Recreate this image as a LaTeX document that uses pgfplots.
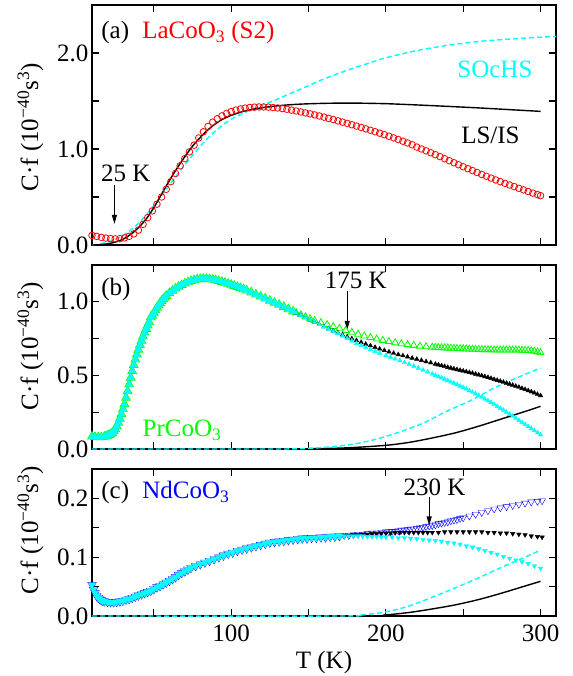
\documentclass[border=0pt]{standalone}
\usepackage{fontspec}
\setmainfont{Liberation Serif}
\usepackage{pgfplots}
\pgfplotsset{compat=1.18}
\usepackage{pgfplotstable}
\usetikzlibrary{arrows.meta}
\definecolor{cy}{RGB}{0,255,255}
\definecolor{gr}{RGB}{0,255,0}
\definecolor{rd}{RGB}{255,0,0}
\definecolor{bl}{RGB}{0,0,255}

\newcommand{\fs}{\fontsize{25}{30}\selectfont}
\tikzset{txt/.style={inner sep=0pt, font=\fs}}

\pgfplotsset{
 panel/.style={
  scale only axis, width=464pt, xmin=10, xmax=310,
  xtick={50,100,150,200,250,300}, xticklabels={},
  tick align=inside, xtick pos=both, ytick pos=both,
  major tick length=7pt,
  axis line style={line width=1.1pt},
  every tick/.append style={line width=1.1pt, black},
  tick label style={font=\fs},
  xticklabel style={yshift=-5pt},
  /pgf/number format/assume math mode=true,
  ylabel={C·f (10\textsuperscript{−40}s\textsuperscript{3})},
  clip=true,
 },
 openmk/.style={only marks, mark options={line width=0.8pt, fill=none}},
}

% ---------------- panel (a) ----------------
\pgfplotstableread[row sep=\\]{
T v\\
10 0.100\\ 13 0.090\\ 16 0.080\\ 19 0.072\\ 22 0.066\\ 25 0.064\\ 28 0.066\\ 31 0.074\\
34 0.090\\ 37 0.115\\ 40 0.155\\ 43 0.215\\ 46 0.285\\ 49 0.355\\ 52 0.425\\ 55 0.500\\
58 0.580\\ 61 0.660\\ 64 0.745\\ 67 0.825\\ 70 0.900\\ 73 0.970\\ 76 1.040\\ 79 1.115\\
82 1.180\\ 85 1.235\\ 88 1.280\\ 91 1.315\\ 94 1.345\\ 97 1.370\\ 100 1.390\\ 103 1.405\\
106 1.417\\ 109 1.426\\ 112 1.432\\ 115 1.436\\ 118 1.438\\ 121 1.438\\ 124 1.436\\ 127 1.432\\
130 1.427\\ 133 1.421\\ 136 1.414\\ 139 1.405\\ 142 1.396\\ 145 1.386\\ 148 1.376\\ 151 1.366\\
154 1.355\\ 157 1.344\\ 160 1.332\\ 163 1.319\\ 166 1.306\\ 169 1.293\\ 172 1.280\\ 175 1.267\\
178 1.253\\ 181 1.239\\ 184 1.225\\ 187 1.210\\ 190 1.195\\ 193 1.180\\ 196 1.165\\ 199 1.149\\
202 1.133\\ 205 1.116\\ 208 1.099\\ 211 1.081\\ 214 1.063\\ 217 1.044\\ 220 1.020\\ 223 1.000\\
226 0.981\\ 229 0.961\\ 232 0.941\\ 235 0.920\\ 238 0.899\\ 241 0.878\\ 244 0.857\\ 247 0.836\\
250 0.815\\ 253 0.795\\ 256 0.775\\ 259 0.755\\ 262 0.735\\ 265 0.716\\ 268 0.697\\ 271 0.678\\
274 0.660\\ 277 0.642\\ 280 0.625\\ 283 0.608\\ 286 0.591\\ 289 0.574\\ 292 0.557\\ 295 0.541\\
298 0.525\\ 300 0.514\\
}\redA

\pgfplotstableread[row sep=\\]{
T v\\
10 0\\ 15 0.003\\ 20 0.012\\ 25 0.030\\ 30 0.060\\ 35 0.110\\ 40 0.180\\ 45 0.270\\ 50 0.390\\
55 0.530\\ 60 0.670\\ 65 0.800\\ 70 0.920\\ 75 1.030\\ 80 1.120\\ 85 1.200\\ 90 1.265\\ 95 1.315\\
100 1.350\\ 105 1.378\\ 110 1.400\\ 120 1.430\\ 130 1.450\\ 140 1.463\\ 150 1.471\\ 165 1.477\\
180 1.478\\ 200 1.472\\ 220 1.459\\ 240 1.444\\ 260 1.428\\ 280 1.410\\ 300 1.392\\
}\blackA

\pgfplotstableread[row sep=\\]{
T v\\
10 0\\ 15 0.012\\ 20 0.032\\ 25 0.060\\ 30 0.100\\ 35 0.155\\ 40 0.225\\ 45 0.310\\ 50 0.410\\
55 0.515\\ 60 0.625\\ 65 0.730\\ 70 0.835\\ 75 0.935\\ 80 1.030\\ 85 1.115\\ 90 1.190\\ 95 1.255\\
100 1.310\\ 110 1.390\\ 120 1.455\\ 130 1.520\\ 140 1.590\\ 150 1.660\\ 160 1.730\\ 175 1.820\\
190 1.900\\ 200 1.950\\ 220 2.025\\ 240 2.080\\ 260 2.120\\ 280 2.145\\ 300 2.165\\ 310 2.172\\
}\cyanA

% ---------------- panel (b) ----------------
\pgfplotstableread[row sep=\\]{
T v\\
10 0.085\\ 12 0.081\\ 14 0.080\\ 16 0.080\\ 18 0.083\\ 19 0.086\\ 20 0.090\\ 21 0.095\\ 22 0.100\\ 23 0.108\\ 24 0.120\\ 25 0.135\\
26 0.155\\ 27 0.178\\ 28 0.205\\ 29 0.237\\ 30 0.270\\ 31 0.305\\ 32 0.348\\ 33 0.393\\ 34 0.440\\
35 0.485\\ 36 0.530\\ 37 0.570\\ 38 0.608\\ 39 0.643\\ 40 0.675\\ 41 0.706\\ 42 0.736\\ 43 0.765\\
44 0.791\\ 45 0.816\\ 46 0.840\\ 47 0.862\\ 48 0.895\\ 49 0.905\\ 50 0.925\\ 51 0.943\\ 52 0.960\\
53 0.976\\ 54 0.991\\ 55 1.005\\ 56 1.017\\ 57 1.029\\ 58 1.040\\ 60 1.059\\ 62 1.076\\ 64 1.090\\
66 1.103\\ 68 1.114\\ 70 1.124\\ 72 1.133\\ 74 1.141\\ 76 1.147\\ 78 1.152\\ 80 1.155\\ 82 1.156\\ 84 1.156\\
86 1.154\\ 88 1.151\\ 90 1.146\\ 92 1.141\\ 94 1.135\\ 96 1.129\\ 98 1.123\\ 100 1.116\\ 102 1.108\\ 104 1.101\\ 106 1.093\\ 108 1.085\\ 110 1.077\\
113 1.064\\ 116 1.050\\ 119 1.036\\ 122 1.022\\ 125 1.008\\ 128 0.994\\ 131 0.980\\ 134 0.965\\
137 0.950\\ 140 0.935\\
}\bandB

\pgfplotstableread[row sep=\\]{
T v\\
142 0.926\\ 145 0.912\\ 148 0.898\\ 151 0.885\\ 154 0.872\\ 158 0.858\\ 162 0.845\\ 166 0.832\\
170 0.820\\ 174 0.806\\ 178 0.793\\ 182 0.780\\ 186 0.768\\ 190 0.757\\ 194 0.747\\ 198 0.738\\
202 0.730\\ 206 0.722\\ 210 0.715\\ 214 0.709\\ 218 0.704\\ 222 0.699\\ 226 0.695\\ 230 0.692\\
232 0.690\\ 234 0.689\\ 236 0.688\\ 238 0.687\\ 240 0.686\\ 242 0.685\\ 244 0.684\\ 246 0.683\\
248 0.682\\ 250 0.681\\ 252 0.680\\ 254 0.679\\ 256 0.678\\ 258 0.677\\ 260 0.676\\ 262 0.675\\
264 0.675\\ 266 0.674\\ 268 0.674\\ 270 0.673\\ 272 0.673\\ 274 0.673\\ 276 0.673\\ 278 0.673\\
280 0.673\\ 282 0.673\\ 284 0.672\\ 286 0.672\\ 288 0.671\\ 290 0.670\\ 292 0.669\\ 294 0.667\\
296 0.664\\ 298 0.660\\ 300 0.655\\
}\greenB

\pgfplotstableread[row sep=\\]{
T v\\
142 0.924\\ 145 0.908\\ 148 0.892\\ 151 0.876\\ 154 0.861\\ 157 0.846\\ 160 0.831\\ 163 0.817\\
166 0.803\\ 169 0.789\\ 172 0.775\\ 175 0.762\\ 178 0.749\\ 181 0.737\\ 184 0.725\\ 187 0.713\\
190 0.702\\ 193 0.691\\ 196 0.680\\ 199 0.670\\ 202 0.660\\ 205 0.651\\ 208 0.642\\ 211 0.634\\
214 0.626\\ 217 0.618\\ 220 0.610\\ 223 0.602\\ 226 0.594\\ 229 0.586\\ 232 0.577\\ 234 0.572\\
236 0.566\\ 238 0.561\\ 240 0.555\\ 242 0.550\\ 244 0.545\\ 246 0.540\\ 248 0.535\\ 250 0.530\\
252 0.525\\ 254 0.520\\ 256 0.515\\ 258 0.509\\ 260 0.504\\ 262 0.498\\ 264 0.492\\ 266 0.486\\
268 0.480\\ 270 0.473\\ 272 0.467\\ 274 0.461\\ 276 0.454\\ 278 0.447\\ 280 0.441\\ 282 0.434\\
284 0.427\\ 286 0.420\\ 288 0.412\\ 290 0.405\\ 292 0.397\\ 294 0.389\\ 296 0.381\\ 298 0.372\\
300 0.363\\
}\blackB

\pgfplotstableread[row sep=\\]{
T v\\
142 0.924\\ 145 0.908\\ 148 0.892\\ 151 0.876\\ 154 0.861\\ 157 0.846\\ 160 0.830\\ 163 0.815\\
166 0.800\\ 169 0.785\\ 172 0.768\\ 175 0.752\\ 178 0.735\\ 181 0.718\\ 184 0.704\\ 187 0.690\\
190 0.676\\ 193 0.664\\ 196 0.652\\ 200 0.635\\ 203 0.624\\ 206 0.612\\ 209 0.600\\ 212 0.588\\
215 0.576\\ 218 0.563\\ 221 0.550\\ 224 0.537\\ 227 0.524\\ 230 0.510\\ 232 0.501\\ 234 0.492\\
236 0.483\\ 238 0.474\\ 240 0.465\\ 242 0.456\\ 244 0.447\\ 246 0.438\\ 248 0.428\\ 250 0.418\\
252 0.408\\ 254 0.397\\ 256 0.386\\ 258 0.375\\ 260 0.364\\ 262 0.352\\ 264 0.340\\ 266 0.328\\
268 0.316\\ 270 0.303\\ 272 0.290\\ 274 0.277\\ 276 0.264\\ 278 0.250\\ 280 0.237\\ 282 0.223\\
284 0.209\\ 286 0.195\\ 288 0.181\\ 290 0.167\\ 292 0.153\\ 294 0.139\\ 296 0.125\\ 298 0.111\\
300 0.097\\
}\cyanB

\pgfplotstableread[row sep=\\]{
T v\\
10 0\\ 100 0\\ 150 0.002\\ 175 0.008\\ 200 0.025\\ 215 0.045\\ 230 0.075\\ 245 0.110\\
260 0.155\\ 275 0.205\\ 290 0.255\\ 300 0.290\\
}\lineBk

\pgfplotstableread[row sep=\\]{
T v\\
10 0\\ 130 0\\ 150 0.005\\ 165 0.015\\ 180 0.035\\ 195 0.070\\ 210 0.120\\ 225 0.180\\
240 0.260\\ 255 0.330\\ 270 0.415\\ 285 0.485\\ 300 0.550\\
}\lineBc

% ---------------- panel (c) ----------------
\pgfplotstableread[row sep=\\]{
T v\\
10 0.053\\ 11 0.045\\ 12 0.039\\ 13 0.034\\ 14 0.031\\ 15 0.029\\ 16 0.027\\ 17 0.026\\ 18 0.025\\ 20 0.024\\
22 0.0237\\ 24 0.0235\\ 26 0.024\\ 28 0.025\\ 30 0.026\\ 32 0.028\\ 34 0.029\\ 36 0.031\\ 38 0.033\\ 40 0.035\\ 42 0.037\\ 44 0.039\\ 46 0.041\\ 48 0.043\\
50 0.046\\ 52 0.049\\ 54 0.051\\ 56 0.054\\ 58 0.057\\ 60 0.060\\ 62 0.063\\ 64 0.066\\ 66 0.070\\ 68 0.073\\ 70 0.076\\ 72 0.079\\ 74 0.082\\
77 0.085\\ 80 0.088\\ 83 0.091\\ 86 0.094\\ 89 0.097\\ 92 0.100\\ 95 0.103\\ 98 0.106\\ 101 0.108\\
104 0.111\\ 107 0.113\\ 110 0.115\\ 113 0.117\\ 116 0.119\\ 119 0.121\\ 122 0.123\\ 125 0.125\\
128 0.126\\ 131 0.127\\ 134 0.128\\ 137 0.129\\ 140 0.130\\ 143 0.131\\ 146 0.132\\ 149 0.132\\
152 0.133\\ 155 0.133\\ 158 0.134\\ 161 0.134\\ 164 0.135\\ 167 0.135\\ 170 0.136\\
}\bandC

\pgfplotstableread[row sep=\\]{
T v\\
173 0.137\\ 176 0.137\\ 179 0.138\\ 182 0.139\\ 185 0.139\\ 188 0.140\\ 191 0.141\\ 194 0.141\\
197 0.142\\ 200 0.143\\ 202 0.143\\ 204 0.144\\ 206 0.144\\ 208 0.145\\ 210 0.146\\ 212 0.146\\
214 0.147\\ 216 0.148\\ 218 0.148\\ 220 0.149\\ 222 0.150\\ 224 0.151\\ 226 0.152\\ 228 0.153\\
230 0.154\\ 232 0.155\\ 234 0.157\\ 236 0.158\\ 238 0.159\\ 240 0.160\\ 242 0.162\\ 244 0.163\\
246 0.164\\ 248 0.166\\ 250 0.167\\ 254 0.170\\ 258 0.173\\ 262 0.176\\ 266 0.179\\ 270 0.182\\
274 0.184\\ 278 0.186\\ 282 0.188\\ 286 0.190\\ 290 0.192\\ 294 0.194\\ 298 0.195\\ 301 0.196\\
}\blueC

\pgfplotstableread[row sep=\\]{
T v\\
173 0.137\\ 176 0.137\\ 179 0.138\\ 182 0.138\\ 185 0.139\\ 188 0.139\\ 191 0.140\\ 194 0.140\\
197 0.141\\ 200 0.141\\ 203 0.141\\ 206 0.142\\ 209 0.142\\ 212 0.142\\ 215 0.142\\ 218 0.142\\
221 0.142\\ 224 0.142\\ 227 0.142\\ 230 0.142\\ 234 0.142\\ 238 0.143\\ 242 0.143\\ 246 0.143\\
250 0.143\\ 254 0.143\\ 258 0.143\\ 262 0.143\\ 266 0.142\\ 270 0.142\\ 274 0.141\\ 278 0.141\\
282 0.140\\ 286 0.139\\ 290 0.138\\ 294 0.136\\ 298 0.135\\ 301 0.134\\
}\blackC

\pgfplotstableread[row sep=\\]{
T v\\
173 0.136\\ 176 0.136\\ 179 0.136\\ 182 0.136\\ 185 0.136\\ 188 0.135\\ 191 0.135\\ 194 0.135\\
197 0.134\\ 200 0.134\\ 204 0.134\\ 208 0.133\\ 212 0.133\\ 216 0.132\\ 220 0.131\\ 224 0.130\\
228 0.129\\ 232 0.128\\ 236 0.127\\ 240 0.125\\ 244 0.124\\ 248 0.122\\ 252 0.119\\ 256 0.117\\
260 0.114\\ 264 0.111\\ 268 0.108\\ 272 0.105\\ 276 0.101\\ 280 0.098\\ 284 0.095\\ 288 0.092\\
292 0.089\\ 296 0.085\\ 300 0.081\\
}\cyanC

\pgfplotstableread[row sep=\\]{
T v\\
10 0\\ 180 0\\ 200 0.002\\ 215 0.006\\ 230 0.012\\ 245 0.019\\ 260 0.028\\ 275 0.039\\
290 0.051\\ 300 0.059\\
}\lineCk

\pgfplotstableread[row sep=\\]{
T v\\
10 0\\ 170 0\\ 185 0.002\\ 200 0.007\\ 215 0.017\\ 230 0.032\\ 245 0.048\\ 260 0.065\\
275 0.083\\ 290 0.100\\ 300 0.112\\
}\lineCc

\begin{document}
\begin{tikzpicture}
\path[use as bounding box] (0pt,0pt) rectangle (572pt,-676pt);

% ===== (a)
\begin{axis}[panel, at={(92pt,-245pt)}, anchor=south west, height=240pt,
  ymin=0, ymax=2.5, ytick={0,0.5,1,1.5,2}, yticklabels={0.0,,1.0,,2.0},
  every axis y label/.style={font=\fs, rotate=90, anchor=south, at={(axis description cs:-0.097,0.49)}}]
\addplot[openmk, mark=o, mark size=3.3pt, rd] table {\redA};
\addplot[cy, line width=1.4pt, dash pattern=on 5pt off 3pt, smooth] table {\cyanA};
\addplot[black, line width=1.4pt, smooth] table {\blackA};
\node[txt, anchor=base west] at (axis cs:15.9,2.15) {(a)};
\node[txt, anchor=base west, text=rd] at (axis cs:42.4,2.15) {LaCoO\textsubscript{3} (S2)};
\node[txt, anchor=base, text=cy] at (axis cs:270.5,1.74) {SOcHS};
\node[txt, anchor=base] at (axis cs:267.6,1.06) {LS/IS};
\node[txt, anchor=base] at (axis cs:31.9,0.66) {25 K};
\draw[line width=0.9pt, -{Triangle[length=9pt,width=5pt]}] (axis cs:24.5,0.62) -- (axis cs:24.5,0.22);
\end{axis}

% ===== (b)
\begin{axis}[panel, at={(92pt,-449pt)}, anchor=south west, height=184pt,
  ymin=0, ymax=1.25, ytick={0,0.25,0.5,0.75,1}, yticklabels={0.0,,0.5,,1.0},
  every axis y label/.style={font=\fs, rotate=90, anchor=south, at={(axis description cs:-0.097,0.56)}}]
\addplot[openmk, mark=triangle, mark size=5pt, gr] table {\bandB};
\addplot[openmk, mark=triangle, mark size=4pt, gr] table {\greenB};
\addplot[only marks, mark=triangle*, mark size=2.6pt, black] table {\bandB};
\addplot[only marks, mark=triangle*, mark size=2.6pt, black] table {\blackB};
\addplot[only marks, mark=triangle*, mark size=4pt, cy] table {\bandB};
\addplot[only marks, mark=triangle*, mark size=2.6pt, cy] table {\cyanB};
\addplot[black, line width=1.4pt, smooth] table {\lineBk};
\addplot[cy, line width=1.4pt, dash pattern=on 5pt off 3pt, smooth] table {\lineBc};
\node[txt, anchor=base west] at (axis cs:15.9,1.045) {(b)};
\node[txt, anchor=base west, text=gr] at (axis cs:42.6,0.085) {PrCoO\textsubscript{3}};
\node[txt, anchor=base] at (axis cs:180.6,1.093) {175 K};
\draw[line width=0.9pt, -{Triangle[length=9pt,width=5pt]}] (axis cs:175,1.07) -- (axis cs:175,0.81);
\end{axis}

% ===== (c)
\begin{axis}[panel, at={(92pt,-616pt)}, anchor=south west, height=147pt,
  ymin=0, ymax=0.25, ytick={0,0.05,0.1,0.15,0.2}, yticklabels={0.0,,0.1,,0.2},
  xticklabels={,100,,200,,300},
  xlabel={T (K)},
  every axis x label/.style={font=\fs, anchor=base, at={(axis description cs:0.5,-0.354)}},
  every axis y label/.style={font=\fs, rotate=90, anchor=south, at={(axis description cs:-0.097,0.585)}}]
\addplot[openmk, mark=triangle, mark size=5pt, bl, mark options={rotate=180}] table {\bandC};
\addplot[openmk, mark=triangle, mark size=4pt, bl, mark options={rotate=180}] table {\blueC};
\addplot[only marks, mark=triangle*, mark size=2.6pt, black, mark options={rotate=180}] table {\bandC};
\addplot[only marks, mark=triangle*, mark size=2.6pt, black, mark options={rotate=180}] table {\blackC};
\addplot[only marks, mark=triangle*, mark size=4pt, cy, mark options={rotate=180}] table {\bandC};
\addplot[only marks, mark=triangle*, mark size=2.6pt, cy, mark options={rotate=180}] table {\cyanC};
\addplot[black, line width=1.4pt, smooth] table {\lineCk};
\addplot[cy, line width=1.4pt, dash pattern=on 5pt off 3pt, smooth] table {\lineCc};
\node[txt, anchor=base west] at (axis cs:15.9,0.2) {(c)};
\node[txt, anchor=base west, text=bl] at (axis cs:42.4,0.2) {NdCoO\textsubscript{3}};
\node[txt, anchor=base] at (axis cs:231.4,0.205) {230 K};
\draw[line width=0.9pt, -{Triangle[length=9pt,width=5pt]}] (axis cs:228,0.202) -- (axis cs:228,0.154);
\end{axis}
\end{tikzpicture}
\end{document}
